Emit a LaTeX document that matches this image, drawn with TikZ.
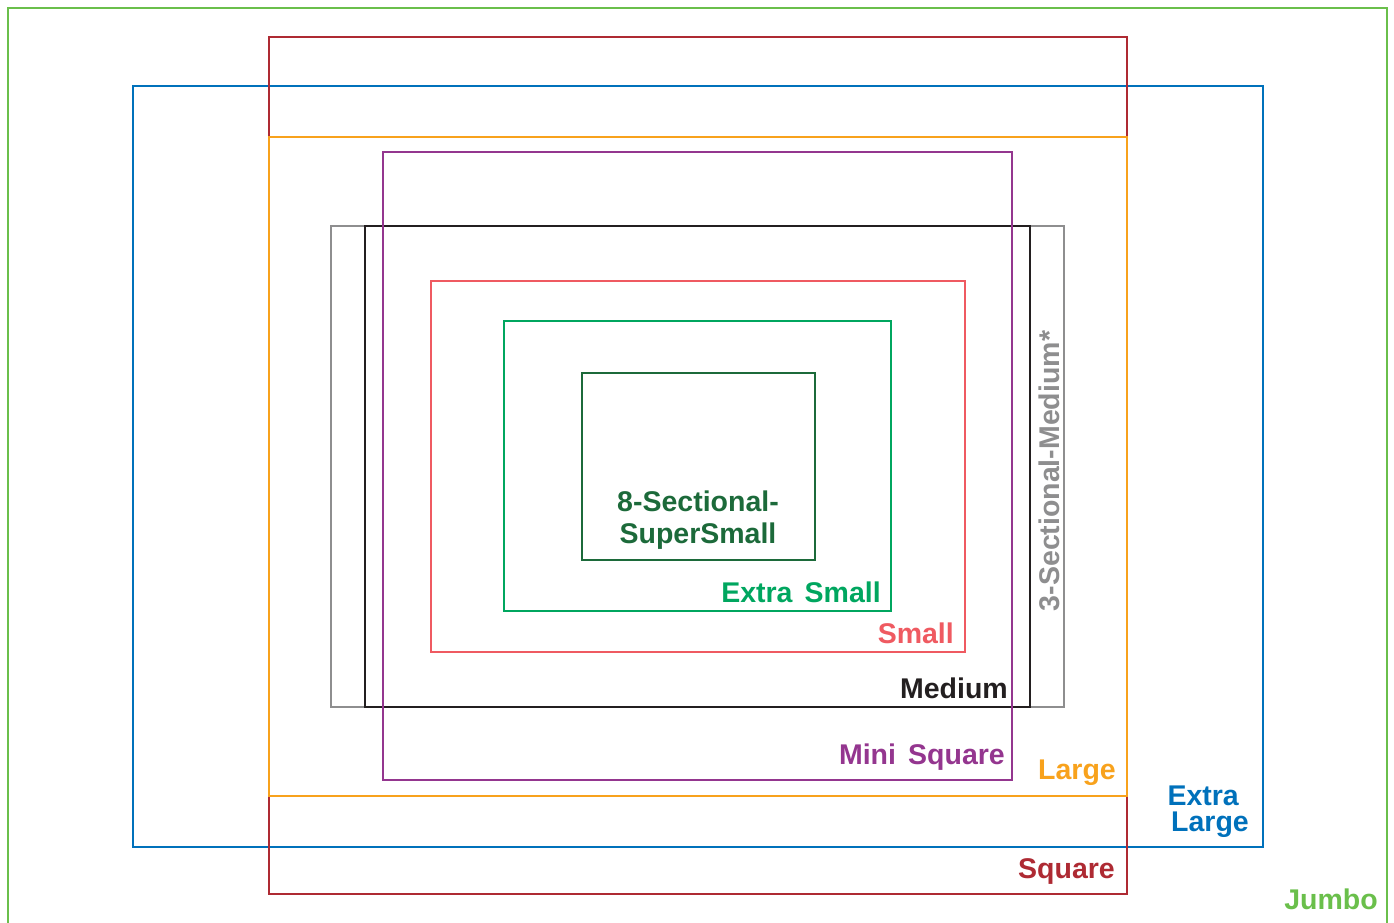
\documentclass[tikz,border=0pt]{standalone}
\usepackage{fontspec}
\setmainfont{Liberation Sans}
\definecolor{cjumbo}{HTML}{6ABF4B}
\definecolor{csquare}{HTML}{AE2A33}
\definecolor{cxl}{HTML}{0071BB}
\definecolor{clarge}{HTML}{F8A21C}
\definecolor{cmini}{HTML}{94368F}
\definecolor{cthree}{HTML}{8E8E8F}
\definecolor{cmed}{HTML}{231F20}
\definecolor{csmall}{HTML}{EF5A61}
\definecolor{cxs}{HTML}{00A65F}
\definecolor{ceight}{HTML}{1C6A3A}
\tikzset{
  box/.style={draw=#1, line width=2.8, fill=none},
  lbl/.style={text=#1, font=\fontsize{28.5}{26}\selectfont\bfseries, inner sep=0pt, align=right}
}
\begin{document}
\begin{tikzpicture}[x=1pt,y=-1pt]
\useasboundingbox (0,0) rectangle (1394,922);
\draw[box=cjumbo] (8,8) rectangle (1387,940);
\draw[box=cxl] (133,86) rectangle (1263,847);
\draw[box=csquare] (269,37) rectangle (1127,894);
\draw[box=clarge] (269,137) rectangle (1127,796);
\draw[box=cthree] (331,226) rectangle (1064,707);
\draw[box=cmed] (365,226) rectangle (1030,707);
\draw[box=cmini] (383,152) rectangle (1012,780);
\draw[box=csmall] (431,281) rectangle (965,652);
\draw[box=cxs] (504,321) rectangle (891,611);
\draw[box=ceight] (582,373) rectangle (815,560);
\node[lbl=ceight, align=center, font=\fontsize{28.5}{32}\selectfont\bfseries] (l8) at (698,520) {8-Sectional-\\SuperSmall};
\node[lbl=cxs, anchor=east] (lxs) at (881,592) {Extra\hspace{0.15em} Small};
\node[lbl=csmall, anchor=east] (ls) at (954,633) {Small};
\node[lbl=cmed, anchor=east] (lm) at (1008,688) {Medium};
\node[lbl=cmini, anchor=east] (lmini) at (1005,757) {Mini\hspace{0.15em} Square};
\node[lbl=clarge, anchor=east] (ll) at (1116,773) {Large};
\node[lbl=cxl, anchor=east] (lxl) at (1249,812) {Extra\rule{10pt}{0pt}\\Large};
\node[lbl=csquare, anchor=east] (lsq) at (1115,871) {Square};
\node[lbl=cjumbo, anchor=east] (lj) at (1378,899) {Jumbo};
\node[lbl=cthree, rotate=90] (l3) at (1049,471) {3-Sectional-Medium*};
\end{tikzpicture}
\end{document}
